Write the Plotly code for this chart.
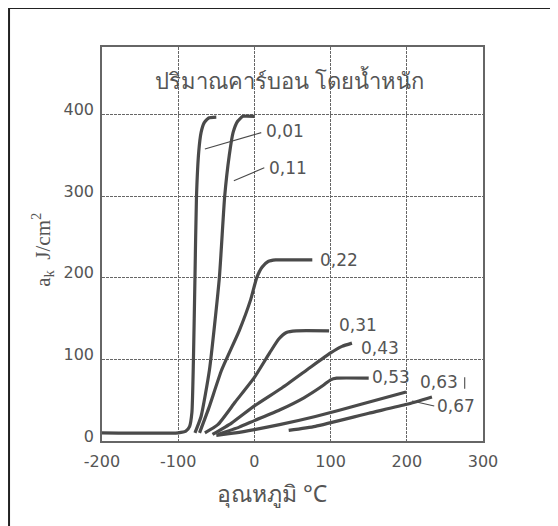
import plotly.graph_objects as go

# ---------------- data ----------------
c001_x = [-200, -100, -90, -85, -82, -80, -78, -76, -73, -70, -66, -60, -50]
c001_y = [10, 10, 12, 18, 35, 100, 200, 300, 355, 378, 390, 396, 397]

c011_x = [-78, -70, -59, -46, -39, -33, -28, -22, -15, 0]
c011_y = [10, 30, 87, 200, 300, 350, 378, 392, 398, 398]

c022_x = [-72, -60, -43, -20, -5, 3, 10, 18, 28, 40, 76]
c022_y = [10, 40, 87, 135, 173, 200, 213, 220, 222, 222, 222]

c031_x = [-65, -48, -25, 0, 20, 32, 42, 55, 98]
c031_y = [10, 20, 48, 78, 108, 125, 133, 135, 135]

c043_x = [-55, -30, 0, 36, 70, 100, 115, 128]
c043_y = [8, 22, 43, 65, 88, 108, 116, 120]

c053_x = [-48, -20, 0, 33, 65, 90, 100, 108, 150]
c053_y = [8, 17, 25, 38, 53, 68, 75, 77, 77]

c063_x = [-50, -25, 0, 33, 80, 140, 199]
c063_y = [7, 10, 14, 20, 30, 45, 60]

c067_x = [45, 80, 150, 200, 233]
c067_y = [13, 18, 34, 45, 54]

curve_labels = ["0,01", "0,11", "0,22", "0,31", "0,43", "0,53", "0,63", "0,67"]
label_x = [12, 16, 84, 108, 137, 152, 215, 237]
label_y = [380, 335, 222, 142, 114, 79, 72, 43]

x_ticks = [-200, -100, 0, 100, 200, 300]
x_ticktext = ["-200", "-100", "0", "100", "200", "300"]
y_ticks = [0, 100, 200, 300, 400]
y_ticktext = ["0", "100", "200", "300", "400"]

title_text = "ปริมาณคาร์บอน โดยน้ำหนัก"
x_title = "อุณหภูมิ °C"
y_title = "a<sub>k</sub>  J/cm<sup>2</sup>"

# ---------------- figure ----------------
LINE = "#4a4a4a"
TXT = "#555555"
GRID = "#666666"

fig = go.Figure()
curves = [(c001_x, c001_y), (c011_x, c011_y), (c022_x, c022_y), (c031_x, c031_y),
          (c043_x, c043_y), (c053_x, c053_y), (c063_x, c063_y), (c067_x, c067_y)]
for (cx, cy), name in zip(curves, curve_labels):
    fig.add_trace(go.Scatter(x=cx, y=cy, mode="lines", name=name,
                             line=dict(color=LINE, width=3.2, shape="spline", smoothing=0.5),
                             showlegend=False, hoverinfo="skip"))

# leader lines
leaders = [((-65, 358), (9, 378)), ((-27, 319), (13, 335)), ((207, 49), (236, 43)),
           ((276, 78), (276, 64))]
for (x0, y0), (x1, y1) in leaders:
    fig.add_shape(type="line", x0=x0, y0=y0, x1=x1, y1=y1, xref="x", yref="y",
                  line=dict(color=LINE, width=1.1))

for t, lx, ly in zip(curve_labels, label_x, label_y):
    fig.add_annotation(x=lx, y=ly, text=t, showarrow=False, xanchor="left", yanchor="middle",
                       font=dict(family="DejaVu Sans", size=17, color=TXT))

fig.add_annotation(x=46, y=443, text=title_text, showarrow=False, xanchor="center",
                   yanchor="middle", font=dict(family="Noto Sans", size=22, color=TXT))

fig.add_annotation(x=-0.155, y=0.485, xref="paper", yref="paper", text=y_title, showarrow=False,
                   textangle=-90, xanchor="center", yanchor="middle",
                   font=dict(family="Liberation Serif", size=21, color=TXT))
fig.add_annotation(x=0.447, y=-0.132, xref="paper", yref="paper", text=x_title, showarrow=False,
                   xanchor="center", yanchor="middle",
                   font=dict(family="Noto Sans", size=23, color=TXT))

# outer frame (top and left edges of a scanned box)
fig.add_shape(type="line", xref="paper", yref="paper", x0=-0.244, y0=1.099, x1=1.25, y1=1.099,
              line=dict(color="#222", width=2))
fig.add_shape(type="line", xref="paper", yref="paper", x0=-0.244, y0=1.099, x1=-0.244, y1=-0.25,
              line=dict(color="#222", width=2))

fig.update_xaxes(range=[-200, 300], tickvals=x_ticks, ticktext=x_ticktext,
                 showgrid=True, gridcolor=GRID, gridwidth=1, griddash="3px,1px",
                 zeroline=False, showline=True, linecolor=GRID, linewidth=1.5, mirror=True,
                 ticks="", ticklen=0, ticklabelstandoff=5,
                 tickfont=dict(family="DejaVu Sans", size=16, color=TXT))
fig.update_yaxes(range=[0, 483], tickvals=y_ticks, ticktext=y_ticktext,
                 showgrid=True, gridcolor=GRID, gridwidth=1, griddash="3px,1px",
                 zeroline=False, showline=True, linecolor=GRID, linewidth=1.5, mirror=True,
                 ticks="", ticklen=0, ticklabelshift=-5, ticklabelstandoff=3,
                 tickfont=dict(family="DejaVu Sans", size=16, color=TXT))

# the page body adds an 8px margin, so the figure is 8px smaller and shifted
fig.update_layout(width=550, height=518, margin=dict(l=94, r=75, t=39, b=85),
                  paper_bgcolor="white", plot_bgcolor="white", showlegend=False)

fig.write_html("out.html")
